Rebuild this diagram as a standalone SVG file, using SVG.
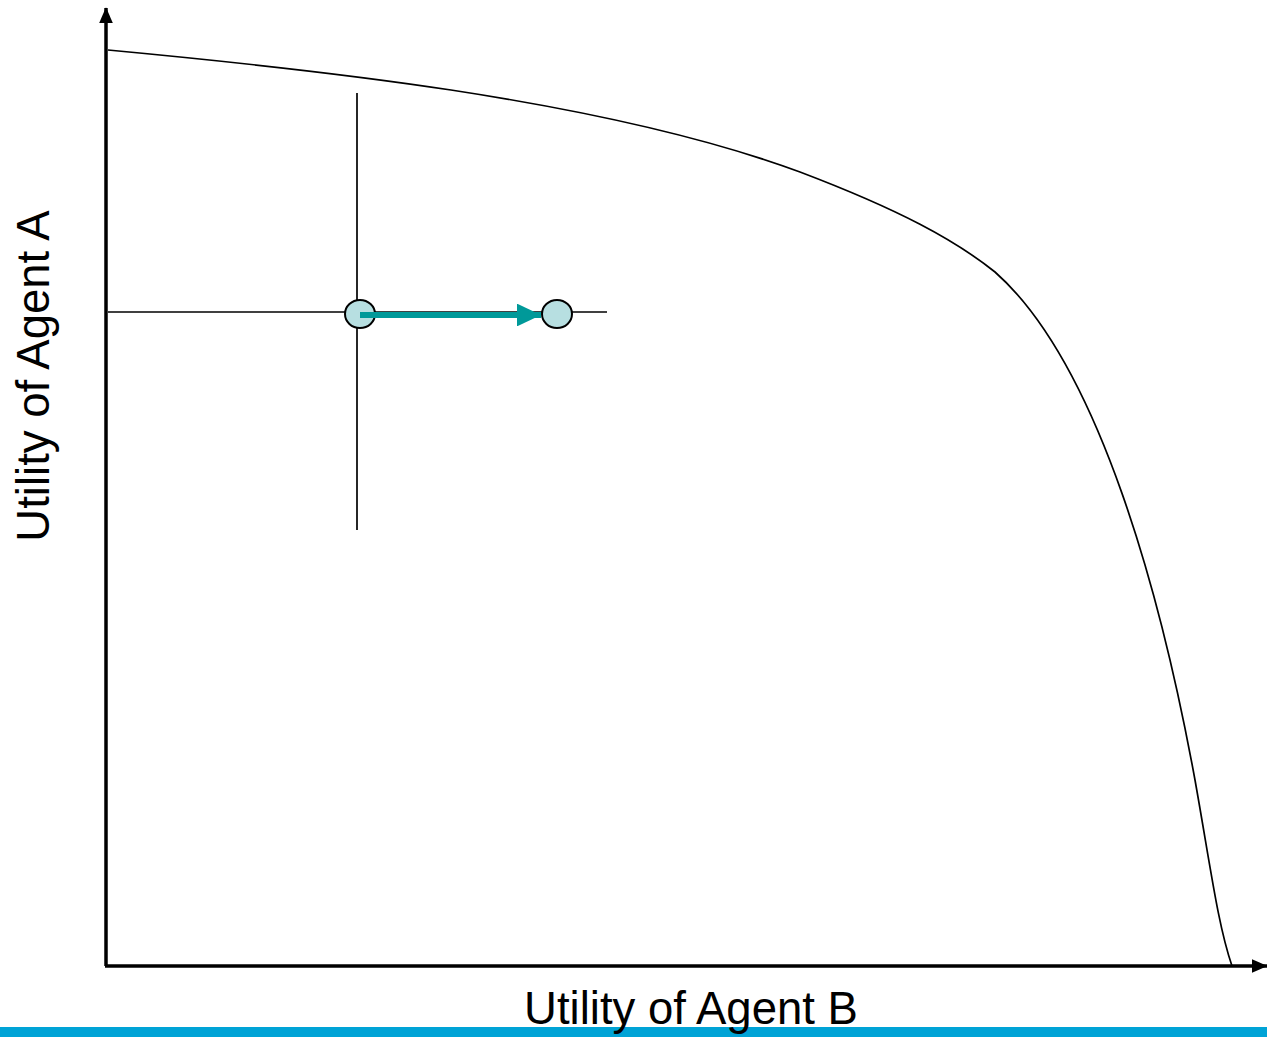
<svg xmlns="http://www.w3.org/2000/svg" width="1267" height="1037" viewBox="0 0 1267 1037">
<style>
.ax{stroke:#000;stroke-width:3.5;fill:none}
.thin{stroke:#000;stroke-width:1.7;fill:none}
.dot{fill:#B7DFE1;stroke:#000;stroke-width:2}
.lbl{font-family:"Liberation Sans",Arial,sans-serif;font-size:45.5px;fill:#000}
</style>
<defs>
<marker id="ah" markerWidth="4.6" markerHeight="4" refX="4.4" refY="2" orient="auto" markerUnits="strokeWidth"><path d="M0,0 L4.6,2 L0,4 Z" fill="#000"/></marker>
<marker id="tah" markerWidth="4" markerHeight="3.8" refX="4" refY="1.9" orient="auto" markerUnits="strokeWidth"><path d="M0,0 L4,1.9 L0,3.8 Z" fill="#009999"/></marker>
</defs>
<rect x="0" y="0" width="1267" height="1037" fill="#fff"/>
<rect x="0" y="1027" width="1267" height="10" fill="#00A3D6"/>
<g id="connectors">
<path class="ax" d="M106,966 V8" marker-end="url(#ah)"/>
<path class="ax" d="M105,966 H1267" marker-end="url(#ah)"/>
<path class="thin" d="M108,50 C300,68 600,98 800,172 C900,210 955,240 995,272 C1100,365 1162,600 1195,780 C1211,870 1218,925 1232,966"/>
<path class="thin" d="M357,93 V530"/>
<path class="thin" d="M108,312 H607"/>
</g>
<g id="node-start"><ellipse class="dot" cx="360" cy="314" rx="15" ry="14"/></g>
<g id="node-end"><ellipse class="dot" cx="557" cy="314" rx="15" ry="14"/></g>
<g id="arrow"><path d="M360,315 H541" stroke="#009999" stroke-width="6" fill="none" marker-end="url(#tah)"/></g>
<g id="labels">
<text class="lbl" x="691" y="1024" text-anchor="middle">Utility of Agent B</text>
<text class="lbl" transform="translate(49,376) rotate(-90)" text-anchor="middle">Utility of Agent A</text>
</g>
</svg>
